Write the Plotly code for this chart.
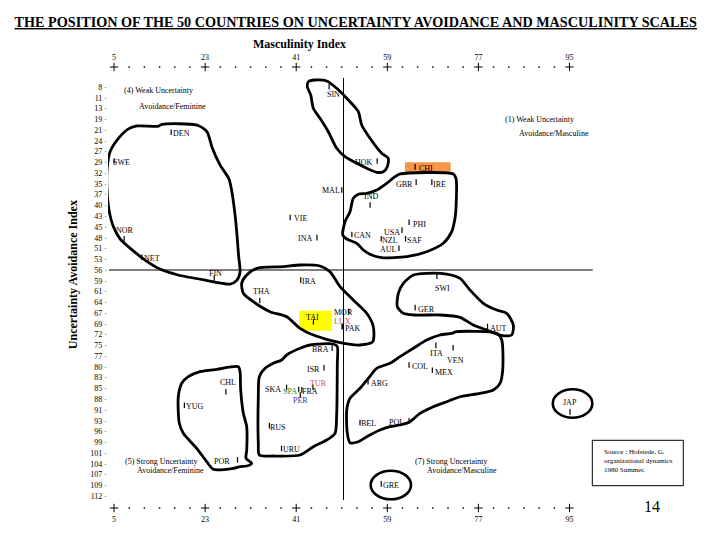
import plotly.graph_objects as go

FONT = "Liberation Serif"

# ---------------- axis data ----------------
x_ticks = [5, 23, 41, 59, 77, 95]
x_minor = [v for v in range(5, 96, 3) if v not in x_ticks]
y_tick_labels = ["8", "11", "13", "19", "21", "24", "27", "29", "32", "35", "37", "40",
                 "43", "45", "48", "51", "53", "56", "59", "61", "64", "67", "69", "72",
                 "75", "77", "80", "83", "85", "88", "91", "93", "96", "99", "101", "104",
                 "107", "109", "112"]
n_rows = len(y_tick_labels)
y_tick_vals = [8 + i * 104 / (n_rows - 1) for i in range(n_rows)]
X_RANGE = [3.81, 100.04]
Y_RANGE = [115.04, 2.92]

# ---------------- countries (Masculinity, Uncertainty Avoidance) ----------------
countries = ["SIN", "DEN", "SWE", "NOR", "NET", "FIN", "VIE", "INA", "MAL", "HOK",
             "CHI", "GBR", "IRE", "IND", "PHI", "USA", "CAN", "NZL", "SAF", "AUL",
             "IRA", "THA", "TAI", "MOR", "LUX", "PAK", "BRA", "ISR", "TUR", "SKA",
             "SPA", "FRA", "PER", "CHL", "YUG", "RUS", "URU", "SWI", "GER", "AUT",
             "ITA", "VEN", "COL", "MEX", "ARG", "BEL", "POL", "JAP", "POR", "GRE"]
mas = [47.5, 16.3, 5.0, 7.0, 10.5, 24.8, 39.8, 45.1, 50.0, 57.0,
       64.5, 64.7, 67.8, 55.6, 63.3, 61.9, 52.0, 57.8, 62.6, 61.3,
       41.9, 33.8, 44.4, 51.4, 50.1, 50.1, 48.1, 46.5, 44.3, 39.1,
       41.5, 42.1, 41.8, 27.1, 18.9, 35.7, 38.1, 68.8, 64.5, 78.8,
       68.6, 72.0, 63.3, 67.9, 55.2, 53.6, 63.3, 95.1, 29.4, 57.8]
uai = [7.9, 19.5, 26.8, 46.6, 51.3, 56.6, 41.2, 46.3, 34.2, 26.8,
       28.3, 32.2, 32.2, 38.0, 42.4, 44.4, 45.5, 46.6, 46.6, 49.0,
       57.1, 62.3, 67.7, 65.0, 68.9, 68.9, 74.4, 79.4, 84.3, 84.4,
       84.9, 85.0, 86.3, 85.5, 88.9, 94.1, 99.9, 56.1, 64.1, 68.9,
       73.7, 74.3, 78.7, 80.0, 82.9, 93.3, 92.9, 90.6, 102.8, 108.9]

# label offsets in pixels (style)
label_dx = [4, 10, 7, 1, 10, 1, 10, -11.7, -11, -13,
            11, -12, 8, 1, 10, -10.3, 11, 8.3, 8.7, -10.7,
            8.5, 1.7, -1, -5.7, 0.4, 10, -11.3, -10.7, 5.3, -13.4,
            -8.5, 8.3, 0, 1.7, 10.7, 8.4, 10, 5.6, 11.7, 11.3,
            0.7, 2, 11, 12, 11.7, 9, -12.3, 0, -16, 9.7]
label_dy = [7.6, 1.5, 1.7, -8.7, 1, -5, 0.6, 1.3, 0.7, 1.3,
            1.6, 2, 2, -8.3, 2, 2, 1.4, 2, 2, 1.7,
            1.7, -9, -4.4, 1.7, -5, 2, 1, 1.6, -3.7, 2,
            2.2, 1.7, 5.7, -9.4, 1.3, 1.6, 1, 12.3, 1.6, 1.6,
            8, 12.3, 1.7, 2.7, 1.6, 1, 1.3, -9.4, 1.7, 1.7]
label_colors = {"LUX": "#C0504D", "TUR": "#C8643C", "SPA": "#2E8B2E", "PER": "#3A3A9A"}

# ---------------- cluster outlines (MAS, UAI) ----------------
cluster_feminine_weak = (
    [3.62, 4.21, 5.79, 7.77, 9.54, 13.69, 14.48, 21.40, 23.38, 24.36, 25.94, 27.72, 28.32,
     28.91, 29.30, 29.60, 29.90, 29.30, 27.92, 22.98, 17.65, 14.09, 11.13, 8.56, 6.19, 4.80,
     4.01, 3.62],
    [29.1, 24.5, 21.2, 18.7, 17.9, 18.0, 17.5, 17.7, 19.4, 23.3, 27.8, 31.4, 34.9,
     40.5, 45.6, 50.7, 55.0, 57.1, 58.1, 57.1, 55.8, 54.3, 52.0, 49.4, 46.6, 43.3,
     39.3, 34.2])
cluster_sin_hok = (
    [43.39, 44.72, 47.03, 49.00, 50.98, 53.27, 53.94, 55.58, 57.89, 59.20, 59.00, 58.21,
     56.91, 54.93, 52.62, 50.64, 49.00, 47.34, 45.70, 44.38, 43.87, 43.19],
    [6.65, 6.22, 6.47, 8.33, 10.87, 14.28, 17.66, 21.04, 24.86, 26.13, 28.26, 29.54,
     29.69, 28.67, 27.15, 25.72, 23.59, 19.37, 15.96, 13.42, 10.03, 7.92])
cluster_anglo = (
    [61.51, 72.04, 72.57, 72.57, 72.38, 71.73, 70.07, 66.79, 62.84, 57.89, 55.92, 54.26,
     52.96, 50.98, 50.19, 50.64, 51.63, 52.28, 53.27, 54.93, 56.91, 58.88, 60.52],
    [30.12, 30.12, 31.22, 38.84, 41.39, 44.79, 47.74, 49.88, 51.15, 51.40, 50.72, 49.45,
     47.74, 46.65, 45.63, 42.25, 39.71, 36.30, 35.28, 35.03, 34.19, 32.49, 30.81])
cluster_asia = (
    [31.22, 33.20, 38.45, 41.75, 45.70, 47.68, 49.66, 52.28, 54.93, 56.24, 56.12, 53.61,
     49.66, 44.38, 41.75, 39.12, 35.82, 32.52, 30.55, 30.23],
    [55.80, 54.10, 53.69, 53.26, 53.51, 54.96, 58.77, 62.16, 65.54, 68.95, 72.76, 73.60,
     73.01, 71.06, 69.35, 66.40, 65.13, 62.59, 60.45, 57.91])
cluster_germanic = (
    [61.18, 62.16, 64.14, 66.79, 70.74, 73.37, 75.34, 77.97, 80.62, 82.59, 83.90, 83.58,
     81.27, 78.64, 75.99, 73.37, 69.41, 64.14, 62.16, 60.98],
    [60.45, 57.91, 55.80, 55.37, 55.55, 56.64, 59.62, 63.00, 64.70, 65.54, 68.51, 71.06,
     71.06, 69.79, 68.51, 66.56, 65.97, 65.97, 65.54, 63.86])
cluster_latin_masc = (
    [71.73, 72.71, 80.62, 81.61, 81.80, 81.27, 79.95, 77.32, 73.37, 70.74, 68.09, 65.46,
     63.49, 61.51, 59.53, 57.56, 54.93, 53.27, 51.63, 51.10, 50.98, 51.63, 53.61, 55.25,
     56.91, 59.53, 61.51, 64.14, 66.79, 69.41],
    [70.63, 70.22, 70.63, 72.33, 79.96, 83.34, 85.04, 85.88, 86.75, 88.02, 89.29, 90.97,
     93.10, 93.94, 94.37, 95.21, 96.92, 98.19, 98.44, 96.05, 90.13, 87.15, 84.61, 82.07,
     79.52, 78.25, 76.57, 74.44, 72.33, 71.06])
cluster_latin_mid = (
    [38.13, 39.12, 41.75, 43.73, 48.33, 49.12, 49.12, 49.00, 48.67, 47.03, 44.38, 41.75,
     36.48, 33.71, 33.51, 33.51, 33.71, 34.84, 36.48],
    [77.41, 76.14, 74.44, 73.60, 73.35, 74.03, 78.25, 90.97, 96.05, 97.75, 99.46, 101.57,
     101.82, 101.57, 98.59, 86.74, 81.66, 79.52, 78.25])
cluster_feminine_strong = (
    [18.38, 19.68, 21.99, 25.29, 29.56, 29.90, 30.03, 30.55, 31.22, 31.22, 31.08, 32.21,
     31.22, 29.90, 28.57, 24.62, 23.32, 21.34, 18.69, 17.90, 17.70],
    [83.34, 81.66, 80.39, 79.78, 79.12, 80.39, 85.04, 90.97, 94.37, 100.30, 102.41, 103.68,
     104.37, 104.54, 104.95, 105.20, 103.27, 99.87, 96.05, 93.51, 86.74])
outlines = [cluster_feminine_weak, cluster_sin_hok, cluster_anglo, cluster_asia,
            cluster_germanic, cluster_latin_masc, cluster_latin_mid, cluster_feminine_strong]

# single-country ellipses (x0, x1, y0, y1)
ellipse_jap = (91.70, 99.51, 84.86, 92.09)
ellipse_gre = (55.72, 63.68, 105.56, 112.83)

# dividing lines
v_line_x = 50.35
v_line_y = [5.7, 113.0]
h_line_y = 54.53
h_line_x = [4.0, 99.6]

# highlight boxes (x0, x1, y0, y1)
box_chi = (62.5, 71.5, 27.15, 30.12)
box_tai = (41.6, 48.1, 64.9, 70.0)

quadrant_texts = [
    ("(4) Weak Uncertainty", 6.58, 9.02),
    ("Avoidance/Feminine", 9.54, 12.96),
    ("(1) Weak Uncertainty", 81.86, 16.39),
    ("Avoidance/Masculine", 84.63, 19.95),
    ("(5) Strong Uncertainty", 6.78, 103.27),
    ("Avoidance/Feminine", 9.15, 105.46),
    ("(7) Strong Uncertainty", 64.08, 103.27),
    ("Avoidance/Masculine", 66.45, 105.46),
]

fig = go.Figure()

# outlines
for xs, ys in outlines:
    fig.add_trace(go.Scatter(
        x=list(xs) + [xs[0]], y=list(ys) + [ys[0]], mode="lines",
        line=dict(color="black", width=2.8, shape="spline", smoothing=0.7),
        hoverinfo="skip", showlegend=False, cliponaxis=False))

# dividing lines
fig.add_trace(go.Scatter(x=[v_line_x, v_line_x], y=v_line_y, mode="lines",
                         line=dict(color="black", width=1), showlegend=False,
                         hoverinfo="skip", cliponaxis=False))
fig.add_trace(go.Scatter(x=h_line_x, y=[h_line_y, h_line_y], mode="lines",
                         line=dict(color="black", width=1), showlegend=False,
                         hoverinfo="skip", cliponaxis=False))

# country markers
fig.add_trace(go.Scatter(
    x=mas, y=uai, mode="markers",
    marker=dict(symbol="line-ns", size=4, line=dict(color="black", width=1.2)),
    text=countries, hoverinfo="text", showlegend=False, cliponaxis=False))

# axis decoration rows: "+" majors and dots
for axis, yv in (("x2", Y_RANGE[1]), ("x", Y_RANGE[0])):
    fig.add_trace(go.Scatter(
        x=x_ticks, y=[yv] * len(x_ticks), xaxis=axis, mode="markers",
        marker=dict(symbol="cross-thin", size=6, line=dict(color="black", width=1)),
        hoverinfo="skip", showlegend=False, cliponaxis=False))
    fig.add_trace(go.Scatter(
        x=x_minor, y=[yv] * len(x_minor), xaxis=axis, mode="markers",
        marker=dict(symbol="circle", size=1.8, color="#333333"),
        hoverinfo="skip", showlegend=False, cliponaxis=False))

shapes = []
for (x0, x1, y0, y1), col in ((box_chi, "#F79646"), (box_tai, "#FFFF00")):
    shapes.append(dict(type="rect", xref="x", yref="y", x0=x0, x1=x1, y0=y0, y1=y1,
                       fillcolor=col, line=dict(width=0), layer="below"))
for (x0, x1, y0, y1) in (ellipse_jap, ellipse_gre):
    shapes.append(dict(type="circle", xref="x", yref="y", x0=x0, x1=x1, y0=y0, y1=y1,
                       line=dict(color="black", width=2.6)))
# source box
shapes.append(dict(type="rect", xref="paper", yref="paper", x0=0.9945, x1=1.1813,
                   y0=0.0506, y1=0.1535, line=dict(color="black", width=1)))

annotations = []
for name, xv, yv, dx, dy in zip(countries, mas, uai, label_dx, label_dy):
    annotations.append(dict(
        x=xv, y=yv, xref="x", yref="y", text=name, showarrow=False,
        xanchor="center", yanchor="middle", xshift=dx, yshift=-dy,
        font=dict(family=FONT, size=8, color=label_colors.get(name, "black"))))
for txt, xv, yv in quadrant_texts:
    annotations.append(dict(x=xv, y=yv, xref="x", yref="y", text=txt, showarrow=False,
                            xanchor="left", yanchor="middle",
                            font=dict(family=FONT, size=8, color="black")))
annotations.append(dict(x=0.394, y=1.052, xref="paper", yref="paper",
                        text="<b>Masculinity Index</b>", showarrow=False,
                        xanchor="center", yanchor="middle",
                        font=dict(family=FONT, size=12, color="black")))
annotations.append(dict(x=-0.072, y=0.53, xref="paper", yref="paper",
                        text="<b>Uncertainty Avoidance Index</b>", showarrow=False,
                        textangle=-90, xanchor="center", yanchor="middle",
                        font=dict(family=FONT, size=12, color="black")))
annotations.append(dict(x=1.0137, y=0.1066, xref="paper", yref="paper",
                        text="Source : Hofstede, G.<br>organizational dynamics<br>1980 Summer.",
                        showarrow=False, xanchor="left", yanchor="middle", align="left",
                        font=dict(family=FONT, size=7, color="black")))
annotations.append(dict(x=1.1164, y=0.0045, xref="paper", yref="paper", text="14",
                        showarrow=False, xanchor="center", yanchor="middle",
                        font=dict(family=FONT, size=16, color="black")))

axis_common = dict(range=X_RANGE, tickvals=x_ticks, ticktext=[str(v) for v in x_ticks],
                   showgrid=False, zeroline=False, showline=False, automargin=False,
                   ticks="outside", ticklen=3, tickcolor="rgba(0,0,0,0)",
                   tickfont=dict(family=FONT, size=8, color="black"))

# the page body adds an 8px offset, so margins are reduced by 8px
fig.update_layout(
    width=720, height=540,
    margin=dict(l=100, r=133, t=59, b=40),
    paper_bgcolor="white", plot_bgcolor="white",
    title=dict(text="<b><u>THE POSITION OF THE 50 COUNTRIES ON UNCERTAINTY AVOIDANCE AND MASCULINITY SCALES</u></b>",
               x=0.483, xanchor="center", y=0.974, yanchor="middle",
               font=dict(family=FONT, size=14.2, color="black")),
    xaxis=dict(side="bottom", **axis_common),
    xaxis2=dict(side="top", overlaying="x", **axis_common),
    yaxis=dict(range=Y_RANGE, tickvals=y_tick_vals, automargin=False,
               ticktext=[t + " \u00b7" for t in y_tick_labels],
               showgrid=False, zeroline=False, showline=False, ticks="",
               tickfont=dict(family=FONT, size=8, color="black")),
    shapes=shapes, annotations=annotations, showlegend=False,
)

fig.write_html("out.html")
